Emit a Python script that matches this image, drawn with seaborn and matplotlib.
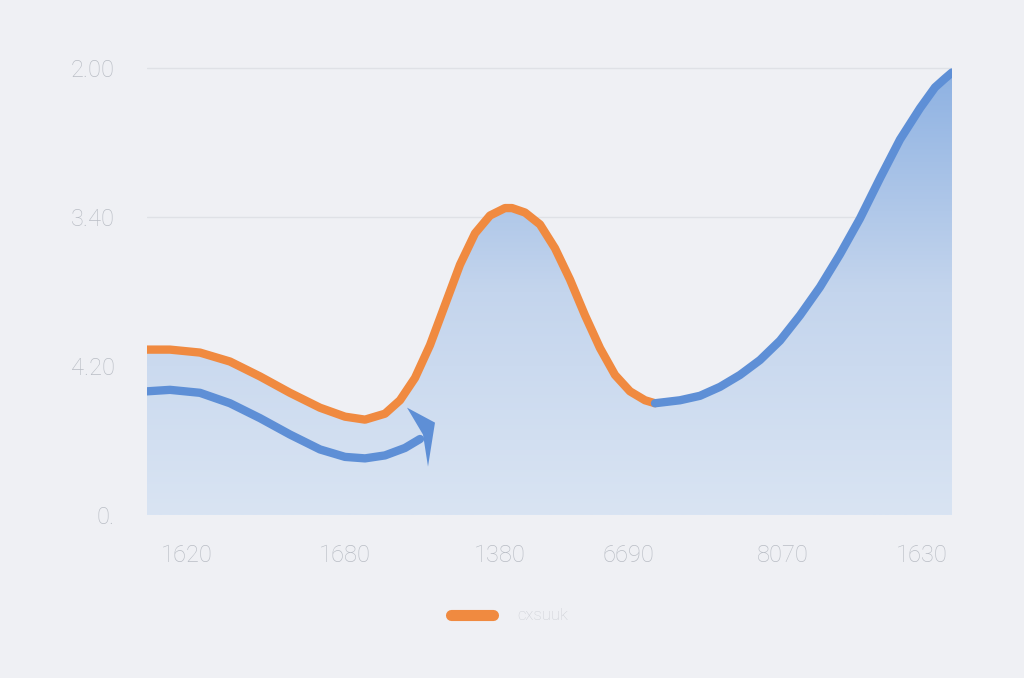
import numpy as np
import pandas as pd
import matplotlib
matplotlib.use('Agg')
import matplotlib.pyplot as plt
import matplotlib.transforms as mtransforms
from matplotlib.patches import Polygon
import seaborn as sns
from matplotlib.colors import LinearSegmentedColormap

# values (x in plot units, y in tick steps)
orange_x = [0, 23, 53, 83, 113, 143, 173, 198, 218, 238, 253, 268, 283, 298, 313,
            328, 343, 358, 365, 378, 393, 408, 423, 438, 453, 468, 483, 498, 508]
orange_y = [1.11, 1.11, 1.09, 1.03, 0.93, 0.82, 0.72, 0.66, 0.64, 0.68, 0.77, 0.92,
            1.14, 1.41, 1.68, 1.89, 2.01, 2.06, 2.06, 2.03, 1.95, 1.79, 1.58, 1.34,
            1.12, 0.94, 0.83, 0.77, 0.75]

blue_x = [508, 533, 553, 573, 593, 613, 633, 653, 673, 693, 713, 733, 753, 773, 788, 798, 805]
blue_y = [0.75, 0.77, 0.80, 0.86, 0.94, 1.04, 1.17, 1.34, 1.53, 1.75, 1.99, 2.26,
          2.52, 2.73, 2.87, 2.93, 2.97]

arrow_x = [0, 23, 53, 83, 113, 143, 173, 198, 218, 238, 258, 273]
arrow_y = [0.83, 0.84, 0.82, 0.75, 0.65, 0.54, 0.44, 0.39, 0.38, 0.40, 0.45, 0.51]
arrow_tip = (288, 0.62)

x_ticks = [40, 198, 353, 481, 636, 775]
x_labels = ['1620', '1680', '1380', '6690', '8070', '1630']
y_ticks = [0, 1, 2, 3]
y_labels = ['0.', '4.20', '3.40', '2.00']
legend_label = 'cxsuuk'

bg = '#eff0f4'
orange = '#f08a40'
blue = '#5e8fd6'
tick_col = '#b9bdc5'

sns.set_theme(style='white')
plt.rcParams['font.family'] = ['Roboto', 'DejaVu Sans']

fig = plt.figure(figsize=(10.24, 6.78), dpi=100, facecolor=bg)
ax = fig.add_axes([147 / 1024, 1 - 515 / 678, 805 / 1024, 455 / 678])
ax.set_facecolor(bg)
ax.set_xlim(0, 805)
ax.set_ylim(0, 3 * 455 / 447)

# gradient area under the combined curve
area_x = np.array(orange_x + blue_x[1:])
area_y = np.array(orange_y + blue_y[1:])
poly = ax.fill_between(area_x, 0, area_y, color='none', lw=0)
cmap = LinearSegmentedColormap.from_list('g', ['#d9e4f3', '#c4d5ed', '#8db1e2'])
grad = np.linspace(0, 1, 256).reshape(-1, 1)
im = ax.imshow(grad, cmap=cmap, aspect='auto', origin='lower',
               extent=[0, 805, 0, 3], zorder=1)
im.set_clip_path(poly.get_paths()[0], transform=ax.transData)

for yv in [2, 3]:
    ax.axhline(yv, color='#dfe1e6', lw=1, zorder=0.5)

orange_df = pd.DataFrame({'x': orange_x, 'y': orange_y})
blue_df = pd.DataFrame({'x': blue_x, 'y': blue_y})
arrow_df = pd.DataFrame({'x': arrow_x, 'y': arrow_y})

sns.lineplot(data=arrow_df, x='x', y='y', color=blue, lw=6, ax=ax, zorder=3,
             solid_capstyle='round', sort=False)
sns.lineplot(data=orange_df, x='x', y='y', color=orange, lw=6, ax=ax, zorder=4,
             solid_capstyle='round', sort=False)
sns.lineplot(data=blue_df, x='x', y='y', color=blue, lw=6, ax=ax, zorder=4,
             solid_capstyle='round', sort=False)

# barbed arrow head, shape in inches around the tip
head_shape = np.array([[0, 0], [-0.28, 0.15], [-0.12, -0.12], [-0.07, -0.44]])
head_tr = fig.dpi_scale_trans + mtransforms.ScaledTranslation(arrow_tip[0], arrow_tip[1], ax.transData)
ax.add_patch(Polygon(head_shape, closed=True, color=blue, lw=0, transform=head_tr, zorder=3))

ax.set_xticks(x_ticks)
ax.set_xticklabels(x_labels)
ax.set_yticks(y_ticks)
ax.set_yticklabels(y_labels)
ax.tick_params(axis='x', length=0, pad=21, labelsize=17, labelcolor=tick_col)
ax.tick_params(axis='y', length=0, pad=23, labelsize=17, labelcolor=tick_col)
for lab in ax.get_xticklabels() + ax.get_yticklabels():
    lab.set_fontweight('light')
ax.set_xlabel('')
ax.set_ylabel('')
sns.despine(ax=ax, left=True, bottom=True)

# legend
fig.lines.append(plt.Line2D([451 / 1024, 493 / 1024], [1 - 615 / 678] * 2,
                            color=orange, lw=8, solid_capstyle='round',
                            transform=fig.transFigure))
fig.text(517 / 1024, 1 - 615 / 678, legend_label, color='#cdd0d6', fontsize=12,
         va='center', ha='left', fontweight='light')

fig.savefig('out.png', dpi=100, facecolor=bg)
